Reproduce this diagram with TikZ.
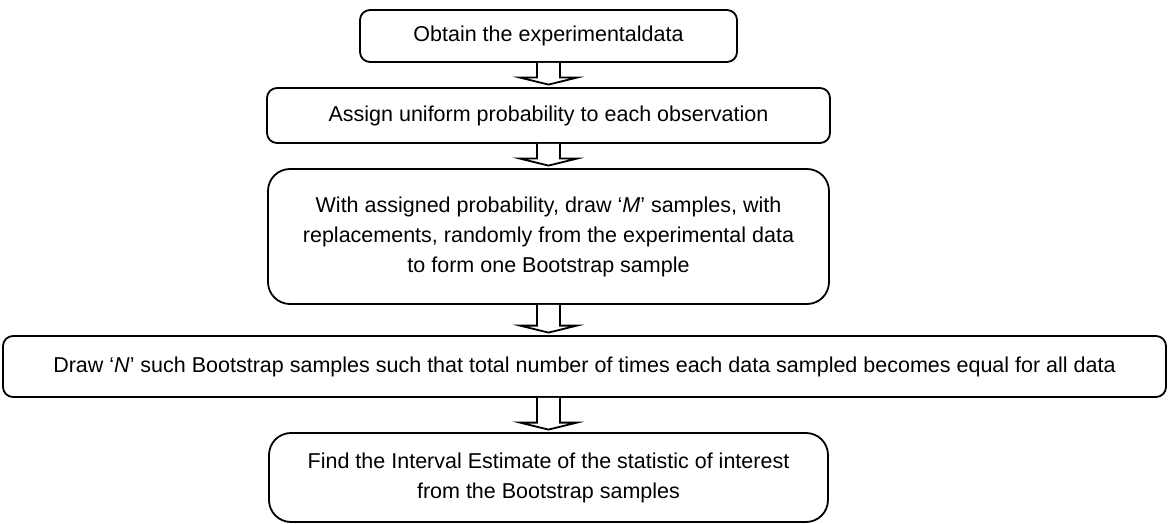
\documentclass[tikz,border=0pt]{standalone}
\usepackage{fontspec}
\setmainfont{Liberation Sans}
\usetikzlibrary{calc, positioning}
\tikzset{
  % Box styles
  stepbox/.style={rectangle, rounded corners=5pt, draw=black, line width=0.9pt, fill=white, align=center, inner sep=0pt, font=\fontsize{10.75}{15}\selectfont},
  bigstepbox/.style={stepbox, rounded corners=11pt},
  % Arrow styles
  blockarrow/.style={draw=black, line width=0.9pt, fill=white, line join=miter}
}
% Hollow block arrow from a box bottom to the next box top
\newcommand{\blockarrow}[2]{%
  \draw[blockarrow] let \p1=#1, \p2=#2 in
    (\x1-5.75pt,\y1) -- (\x1-5.75pt,\y2+4.75pt) -- (\x1-14.25pt,\y2+4.75pt)
    -- (\x1,\y2+1.25pt) -- (\x1+14.25pt,\y2+4.75pt) -- (\x1+5.75pt,\y2+4.75pt)
    -- (\x1+5.75pt,\y1);}
\begin{document}
\begin{tikzpicture}[x=0.5pt, y=-0.5pt]
  \useasboundingbox (0,0) rectangle (1169,524);

  % Steps
  \node[stepbox, minimum width=188.5pt, minimum height=26pt] (obtain) at (548.5,36) {Obtain the experimentaldata};
  \node[stepbox, minimum width=281.5pt, minimum height=27.5pt] (assign) at (548.5,115.5) {Assign uniform probability to each observation};
  \node[bigstepbox, minimum width=280.5pt, minimum height=67.5pt] (draws) at (548.5,236.5) {With assigned probability, draw ‘\textit{M}’ samples, with\\replacements, randomly from the experimental data\\to form one Bootstrap sample};
  \node[stepbox, minimum width=581.5pt, minimum height=30.5pt] (repeatdraw) at (584.5,366.5) {Draw ‘\textit{N}’ such Bootstrap samples such that total number of times each data sampled becomes equal for all data};
  \node[bigstepbox, minimum width=279.5pt, minimum height=44.5pt] (estimate) at (548.5,477.5) {Find the Interval Estimate of the statistic of interest\\from the Bootstrap samples};

  % Arrows
  \blockarrow{(obtain.south)}{(assign.north)}
  \blockarrow{(assign.south)}{(draws.north)}
  \blockarrow{(draws.south)}{(repeatdraw.north)}
  \blockarrow{(repeatdraw.south -| estimate.north)}{(estimate.north)}
\end{tikzpicture}
\end{document}
